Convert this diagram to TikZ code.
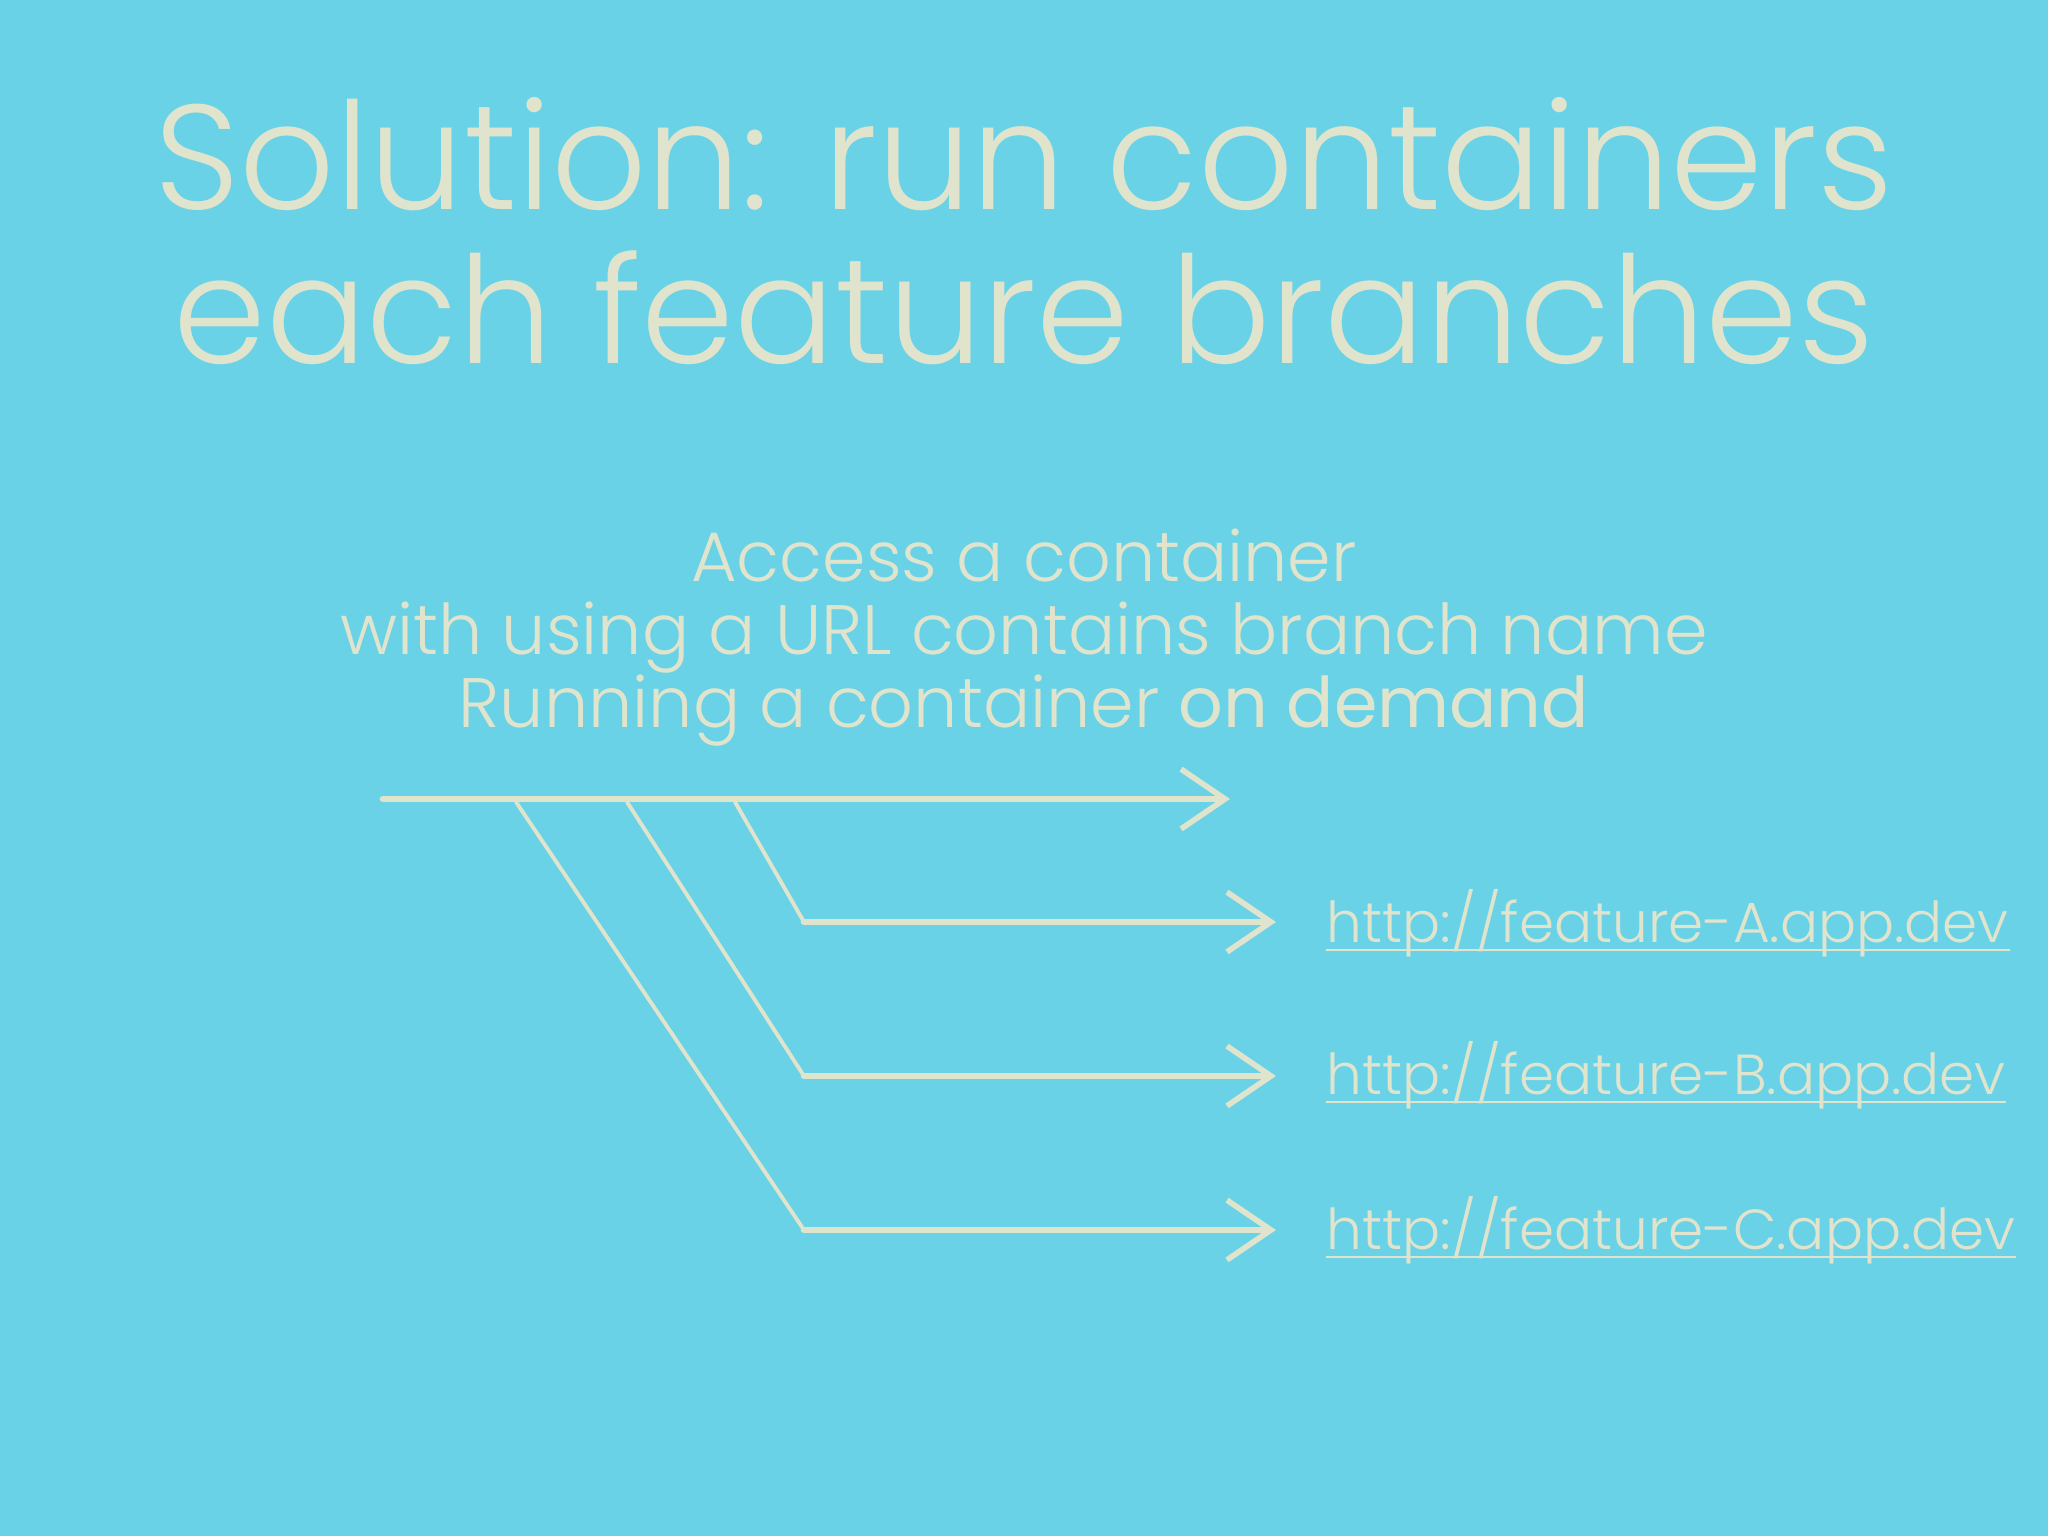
\documentclass[tikz,border=0pt]{standalone}
\usepackage{fontspec}
\IfFontExistsTF{Poppins Light}{\setmainfont{Poppins Light}}{\setmainfont{Poppins}}
\newfontfamily\demandfont{Poppins}
\usepackage{xcolor}
\usepackage{tikz}
\usetikzlibrary{arrows.meta,positioning}
\definecolor{slideblue}{HTML}{69D2E7}
\definecolor{chalk}{HTML}{E0E4CC}

\begin{document}
\begin{tikzpicture}[x=0.01cm,y=-0.01cm,
  headline/.style={font=\fontsize{42.4}{42.4}\selectfont, text=chalk, inner sep=0pt, anchor=base},
  subline/.style={font=\fontsize{19.9}{19.9}\selectfont, text=chalk, inner sep=0pt, anchor=base},
  urltext/.style={font=\fontsize{16.05}{16.05}\selectfont, text=chalk, inner sep=0pt, anchor=base west},
  trunkline/.style={draw=chalk, line width=1.9pt, line cap=round,
    -{Straight Barb[length=12.5pt,width=17pt,line width=1.6pt]}},
  forkline/.style={draw=chalk, line width=1.1pt, line cap=round}]
% slide background
\fill[slideblue] (0,0) rectangle (2048,1536);
\useasboundingbox (0,0) rectangle (2048,1536);
% title
\node[headline] (title1) at (1024,209) {Solution: run containers};
\node[headline] (title2) at (1024,363) {each feature branches};
% explanation
\node[subline] (sub1) at (1024,581) {Access a container};
\node[subline] (sub2) at (1024,654) {with using a URL contains branch name};
\node[subline] (sub3) at (1024,727) {Running a container {\demandfont on demand}};
% main branch
\coordinate (trunk) at (383,799);
\coordinate (trunkend) at (1230,799);
\draw[trunkline] (trunk) -- (trunkend);
% feature branches
\foreach \name/\forkx/\kneey/\urly in {
    A/735/922/942,
    B/627/1076/1094,
    C/516/1230/1249} {
  \coordinate (fork\name) at (\forkx,802);
  \coordinate (knee\name) at (804,\kneey);
  \node[urltext] (url\name) at (1326,\urly) {http://feature-\name.app.dev};
  \draw[chalk, line width=0.5pt] ([yshift=-2.3pt]url\name.base west) -- ([yshift=-2.3pt]url\name.base east);
  \draw[forkline] (fork\name) -- (knee\name);
  \draw[trunkline, shorten >=0.5cm] (knee\name) -- (knee\name -| url\name.west);
}
\end{tikzpicture}
\end{document}
